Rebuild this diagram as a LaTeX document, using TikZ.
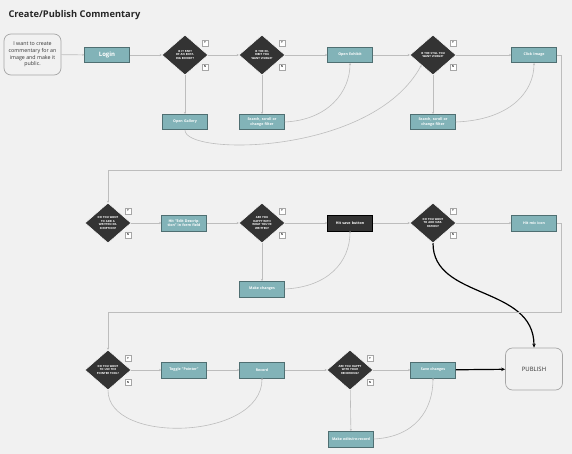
\documentclass[tikz,border=0pt]{standalone}
\usepackage{fontspec}
\setmainfont{Open Sans}
\usetikzlibrary{shapes.geometric,arrows.meta,calc}
\definecolor{bg}{HTML}{F1F1F1}
\definecolor{teal}{HTML}{82B3B8}
\definecolor{tealb}{HTML}{4F6F72}
\definecolor{dk}{HTML}{333333}
\definecolor{ln}{HTML}{BDBDBD}
\tikzset{
  act/.style={draw=tealb, line width=0.5pt, fill=teal, minimum width=45pt, minimum height=15.5pt, inner sep=1pt, text=white, font=\fontsize{3.6}{4.2}\selectfont\bfseries, align=center, text width=40pt},
  dact/.style={act, fill=dk, draw=black},
  dec/.style={diamond, draw=white, line width=0.5pt, fill=dk, minimum width=46pt, minimum height=40pt, inner sep=0pt, text=white, font=\fontsize{2.8}{3.5}\selectfont\bfseries, align=center, text width=24pt},
  yn/.style={draw=gray!70, fill=white, line width=0.4pt, minimum size=5.5pt, inner sep=0pt, font=\fontsize{2.8}{3}\selectfont\bfseries, text=dk},
  term/.style={rounded corners=7pt, draw=gray!70, line width=0.7pt, fill=bg, align=center, text=dk, inner sep=1pt},
  con/.style={draw=ln, line width=0.6pt, -{Stealth[length=2pt,width=2pt]}},
  bold/.style={draw=black, line width=1.2pt, -{Stealth[length=4pt,width=3.5pt]}}
}
\begin{document}
\begin{tikzpicture}[x=1pt,y=-1pt]
\fill[bg] (0,0) rectangle (572,454);
\useasboundingbox (0,0) rectangle (572,454);
\node[anchor=west, font=\fontsize{9.3}{11}\selectfont\bfseries, text=black!85] (title) at (5,15) {Create/Publish Commentary};

% Row 1
\node[term, minimum width=57pt, minimum height=41pt, font=\fontsize{5.3}{6.6}\selectfont] (start) at (32.5,54.5) {I want to create\\commentary for an\\image and make it\\public.};
\node[act, font=\fontsize{6}{7}\selectfont\bfseries] (login) at (107,55) {Login};
\node[dec] (d1) at (185,55) {IS IT PART OF AN EXISTING EXHIBIT?};
\node[dec] (d2) at (262,55) {IS THE EXHIBIT YOU WANT VISIBLE?};
\node[act] (openex) at (350,55) {Open Exhibit};
\node[dec] (d3) at (433,55) {IS THE STILL YOU WANT VISIBLE?};
\node[act] (click) at (534,55) {Click Image};
\node[act] (gallery) at (185,122) {Open Gallery};
\node[act] (search1) at (262,122) {Search, scroll or change filter};
\node[act] (search2) at (433,122) {Search, scroll or change filter};

% Row 2
\node[dec] (d4) at (108,223) {DO YOU WANT TO ADD A WRITTEN DESCRIPTION?};
\node[act] (edit) at (184,223) {Hit "Edit Description" in form field};
\node[dec] (d5) at (262,223) {ARE YOU HAPPY WITH WHAT YOU'VE WRITTEN?};
\node[dact] (save) at (350,223) {Hit save button};
\node[dec] (d6) at (433,223) {DO YOU WANT TO ADD NARRATION?};
\node[act] (mic) at (534,223) {Hit mic icon};
\node[act] (changes) at (262,289) {Make changes};

% Row 3
\node[dec] (d7) at (108,370) {DO YOU WANT TO USE THE POINTER TOOL?};
\node[act] (toggle) at (184,370) {Toggle "Pointer"};
\node[act] (record) at (262,370) {Record};
\node[dec] (d8) at (350,370) {ARE YOU HAPPY WITH YOUR RECORDING?};
\node[act] (savech) at (433,370) {Save changes};
\node[term, minimum width=57pt, minimum height=42pt, font=\fontsize{6}{7}\selectfont] (publish) at (534,369) {PUBLISH};
\node[act] (edits) at (351,439) {Make edits/re-record};

% Y/N labels
\foreach \d/\x/\y in {d1/205/55, d2/282/55, d3/453/55, d4/128/223, d5/282/223, d6/453/223, d7/128/370, d8/370/370}{
  \node[yn] (\d y) at (\x,\y-12) {Y};
  \node[yn] (\d n) at (\x,\y+12) {N};
}

% Row 1 connectors
\draw[con] (start) -- (login);
\draw[con] (login) -- (d1);
\draw[con] (d1) -- (d2);
\draw[con] (d1) -- (gallery);
\draw[con] (d2) -- (openex);
\draw[con] (d2) -- (search1);
\draw[con] (openex) -- (d3);
\draw[con] (d3) -- (click);
\draw[con] (d3) -- (search2);
\draw[con] (search1.east) .. controls (328,120) and (350,92) .. (openex.south);
\draw[con] (gallery.south) .. controls (184,156) and (372,156) .. (d3.south west);
\draw[con] (search2.east) .. controls (510,120) and (534,92) .. (click.south);
\coordinate (r1a) at (561,55);
\coordinate (r1b) at (561,170);
\coordinate (r1c) at (108,170);
\draw[con] (click.east) -- (r1a) -- (r1b) -- (r1c) -- (d4.north);

% Row 2 connectors
\draw[con] (d4) -- (edit);
\draw[con] (edit) -- (d5);
\draw[con] (d5) -- (save);
\draw[con] (d5) -- (changes);
\draw[con] (save) -- (d6);
\draw[con] (d6) -- (mic);
\draw[con] (changes.east) .. controls (328,287) and (350,262) .. (save.south);
\draw[bold] (d6.south) .. controls (433,300) and (534,285) .. (publish.north);
\coordinate (r2a) at (561,223);
\coordinate (r2b) at (561,312);
\coordinate (r2c) at (108,312);
\draw[con] (mic.east) -- (r2a) -- (r2b) -- (r2c) -- (d7.north);

% Row 3 connectors
\draw[con] (d7) -- (toggle);
\draw[con] (toggle) -- (record);
\draw[con] (record) -- (d8);
\draw[con] (d8) -- (savech);
\draw[bold] (savech) -- (publish);
\draw[con] (d7.south) .. controls (108,445) and (262,440) .. (record.south);
\draw[con] (d8) -- (edits);
\draw[con] (edits.east) .. controls (415,437) and (433,410) .. (savech.south);
\end{tikzpicture}
\end{document}
